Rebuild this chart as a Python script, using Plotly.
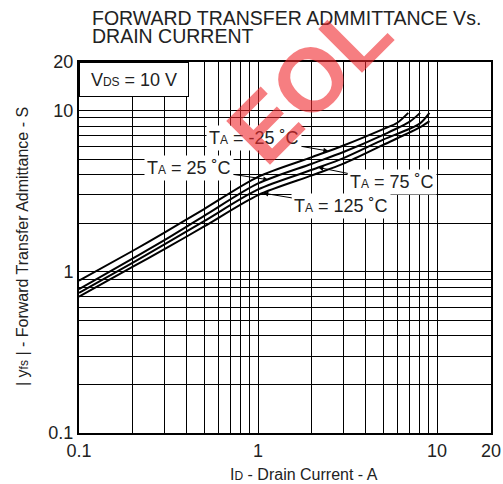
import numpy as np
import plotly.graph_objects as go

# ---- data ----
id_m25 = [0.1, 0.2, 0.3, 0.5, 1, 2, 3, 5, 6, 6.9]
yfs_m25 = [0.88, 1.35, 1.75, 2.45, 3.88, 5.14, 6.07, 7.67, 8.4, 9.67]
id_25 = [0.1, 0.2, 0.3, 0.5, 1, 2, 3, 5, 7, 8.04]
yfs_25 = [0.78, 1.21, 1.57, 2.22, 3.53, 4.68, 5.53, 7.07, 8.5, 9.67]
id_75 = [0.1, 0.2, 0.3, 0.5, 1, 2, 3, 5, 8, 9.06]
yfs_75 = [0.74, 1.14, 1.48, 2.06, 3.24, 4.29, 5.07, 6.6, 8.3, 9.67]
id_125 = [0.1, 0.2, 0.3, 0.5, 1, 2, 3, 5, 8, 9.06]
yfs_125 = [0.70, 1.076, 1.38, 1.91, 2.99, 3.96, 4.68, 6.12, 7.85, 8.6]

series_names = ["-25", "25", "75", "125"]
grid_vals = [0.1, 0.2, 0.3, 0.4, 0.5, 0.6, 0.7, 0.8, 0.9,
             1, 2, 3, 4, 5, 6, 7, 8, 9, 10, 20]
tick_labels = {0.1: "0.1", 1: "1", 10: "10", 20: "20"}

FONT = "Liberation Sans, Arial, sans-serif"
W, H = 503, 484
L, R, T, B = 79, 12, 62, 51
pw, ph = W - L - R, H - T - B


def px2paper(px, py):
    return (px - L) / pw, (H - B - py) / ph


fig = go.Figure()
curves = [(id_m25, yfs_m25), (id_25, yfs_25), (id_75, yfs_75), (id_125, yfs_125)]
for name, (xs, ys) in zip(series_names, curves):
    fig.add_trace(go.Scatter(x=xs, y=ys, mode="lines", name=name,
                             line=dict(color="black", width=2, shape="spline", smoothing=0.8),
                             showlegend=False, hoverinfo="skip"))

ticktext = [tick_labels.get(v, "") for v in grid_vals]
axis_common = dict(type="log", tickmode="array", tickvals=grid_vals, ticktext=ticktext,
                   showgrid=True, gridcolor="black", gridwidth=1, ticks="",
                   showline=True, linewidth=2, linecolor="black", mirror=True,
                   tickfont=dict(family=FONT, size=18, color="#222"), zeroline=False,
                   automargin=False)
fig.update_xaxes(range=[-1, np.log10(20)], **axis_common)
fig.update_yaxes(range=[-1, np.log10(20)], **axis_common)


def tip(xs, ys, x):
    ly = np.interp(np.log10(x), np.log10(xs), np.log10(ys))
    return np.log10(x), ly


sub = "<span style='font-size:12px'>{}</span>"
labels = [
    ("T" + sub.format("A") + " = -25 ˚C", curves[0], 2.47, -74, -13),
    ("T" + sub.format("A") + " = 25 ˚C", curves[1], 1.14, -79, -12),
    ("T" + sub.format("A") + " = 75 ˚C", curves[2], 2.17, 74, 15),
    ("T" + sub.format("A") + " = 125 ˚C", curves[3], 1.07, 78, 13),
]
for text, (xs, ys), xt, ax, ay in labels:
    tx, ty = tip(xs, ys, xt)
    fig.add_annotation(x=tx, y=ty, xref="x", yref="y", text=text, showarrow=True,
                       ax=ax, ay=ay, arrowhead=2, arrowsize=1, arrowwidth=1,
                       arrowcolor="black", bgcolor="white", borderpad=2,
                       font=dict(family=FONT, size=18, color="#222"))

# V_DS box
fig.add_annotation(x=0, y=1, xref="paper", yref="paper", xanchor="left", yanchor="top",
                   text="V" + sub.format("DS") + " = 10 V", showarrow=False,
                   width=102, height=27, align="center", valign="middle",
                   bgcolor="white", bordercolor="black", borderwidth=1, borderpad=3,
                   font=dict(family=FONT, size=18, color="#222"))


def text_at(px, py, text, size, **kw):
    x, y = px2paper(px, py)
    fig.add_annotation(x=x, y=y, xref="paper", yref="paper", text=text,
                       showarrow=False, font=dict(family=FONT, size=size,
                                                  color=kw.pop("color", "#222")), **kw)


text_at(90, 17.5, "FORWARD TRANSFER ADMMITTANCE Vs.", 19.5, xanchor="left", yanchor="middle")
text_at(90, 36.5, "DRAIN CURRENT", 19.5, xanchor="left", yanchor="middle")
text_at(304, 474, "I" + sub.format("D") + " - Drain Current - A", 16,
        xanchor="center", yanchor="middle")
text_at(22, 247, "| y" + sub.format("fs") + " | - Forward Transfer Admittance - S", 16,
        textangle=-90, xanchor="center", yanchor="middle")
# EOL watermark
text_at(309, 82, "<b>EOL</b>", 90, textangle=-45, xanchor="center", yanchor="middle",
        color="rgba(240,40,45,0.6)")

fig.update_layout(width=W, height=H, plot_bgcolor="white", paper_bgcolor="white",
                  margin=dict(l=L, r=R, t=T, b=B, autoexpand=False), showlegend=False,
                  hovermode=False)

fig.write_html("out.html", config={"displayModeBar": False, "staticPlot": True},
               post_script="document.body.style.margin='0';document.body.style.overflow='hidden';")
